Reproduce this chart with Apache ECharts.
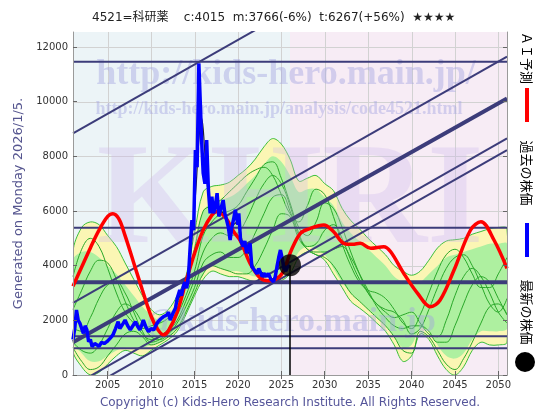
<!DOCTYPE html>
<html><head><meta charset="utf-8">
<script src="https://cdn.jsdelivr.net/npm/echarts@6/dist/echarts.min.js"></script>
<style>html,body{margin:0;padding:0;background:#fff}#c{width:560px;height:420px}</style>
</head><body><div id="c"></div>
<script>
// ---------- data ----------
const tickYears = [2005,2010,2015,2020,2025,2030,2035,2040,2045,2050];
const yTicks = [0,2000,4000,6000,8000,10000,12000];
const latestYear = 2026;
const latestPrice = 4015;

const bandYears = [2001,2002,2003,2004,2005,2006,2007,2008,2009,2010,
  2011,2012,2013,2014,2015,2016,2017,2018,2019,2020,
  2021,2022,2023,2024,2025,2026,2027,2028,2029,2030,
  2031,2032,2033,2034,2035,2036,2037,2038,2039,2040,
  2041,2042,2043,2044,2045,2046,2047,2048,2049,2050,2051];
const yellowHigh = [4500,5400,5600,5500,5100,4700,4100,3500,2900,2400,
  2200,2400,2900,3600,5200,6700,6900,6950,7050,7300,
  7550,7900,8350,8650,8450,7900,7100,7200,7300,7000,
  6750,6100,5650,5350,5000,4700,4400,4000,3800,3650,
  3800,4200,4650,4900,4950,5000,5150,5250,5350,5400,5350];
const yellowLow = [900,300,0,100,400,700,900,800,700,900,
  1100,1300,1600,2200,2900,3500,3800,3700,3600,3600,
  3500,3400,3400,3350,3450,3700,4300,4500,4400,4200,
  3700,3200,2700,2450,2200,1900,1600,1100,500,700,
  1500,1300,700,200,0,300,900,1200,1100,1100,1200];
const greenHigh = [4200,4500,4500,4300,4000,3700,3300,2900,2500,2200,
  2000,2200,2700,3400,4800,6000,6300,6400,6500,6700,
  7000,7300,7700,8000,7800,7300,6700,6800,6800,6500,
  6200,5600,5200,4900,4600,4300,4000,3600,3400,3300,
  3400,3700,4000,4300,4400,4500,4600,4700,4800,4800,4800];
const greenLow = [1200,800,500,500,700,900,1000,1000,1000,1100,
  1200,1400,1700,2300,3000,3700,4000,3900,3800,3800,
  3700,3600,3600,3600,3700,3900,4500,4700,4600,4400,
  3900,3400,3000,2700,2400,2100,1800,1400,1000,1100,
  1700,1600,1100,700,600,800,1300,1600,1600,1600,1700];

const path2 = [3600,4600,5000,4700,3900,3000,2300,1900,1700,1800,
  1900,2100,2600,3300,4600,6000,6200,6400,6700,7000,
  7300,7500,7600,7300,6600,5900,5600,6200,6800,6600,
  5800,4800,4000,3400,3100,3000,2800,2400,1900,1700,
  2200,3000,3800,4400,4600,4300,3700,3200,3200,3700,4300];
const path3 = [2400,3100,3800,4200,4100,3500,2700,2000,1500,1300,
  1400,1700,2200,2900,3800,5100,5600,5900,6000,6200,
  6700,7200,7700,7800,7200,6300,5400,5100,5600,6300,
  6100,5400,4500,3700,3000,2600,2400,2300,2000,1500,
  1700,2400,3200,3900,4300,4400,4000,3300,2600,2300,2800];
const path4 = [1700,1600,2100,2800,3300,3400,3000,2300,1600,1200,
  1300,1600,2000,2700,3500,4500,5000,5200,5100,5200,
  5700,6400,7000,7300,7000,6200,5200,4700,4800,5300,
  5500,5000,4200,3500,3000,2600,2300,2100,2200,2300,
  1900,1500,1400,2000,2900,3600,3900,3600,3000,2300,1900];
const path5 = [1200,900,800,1100,1700,2300,2600,2400,1900,1400,
  1300,1500,1900,2500,3200,4100,4400,4500,4300,4300,
  4600,5200,5900,6500,6600,6000,5100,4600,4500,4500,
  4600,4700,4300,3700,3100,2500,2100,1800,1700,1800,
  1800,1600,1200,1200,1800,2600,3300,3600,3400,2800,2200];
const path6 = [1000,500,200,300,700,1100,1500,1600,1400,1100,
  1200,1400,1700,2300,3000,3700,4000,3900,3800,3700,
  3700,4000,4600,5300,5900,5800,5000,4600,4400,4300,
  4000,3500,3000,2700,2400,2100,1800,1400,900,800,
  1600,1400,900,400,200,600,1200,1900,2500,2600,2200];
const greenPaths = [path2, path3, path4, path5, path6];

const redYears = [2001,2002,2003,2004,2005,2005.6,2006.3,2007,2008,2009,
  2010,2010.8,2011.4,2012,2013,2014,2015,2016,2017,2017.6,
  2018.6,2019.5,2020.3,2021.4,2022.6,2023.5,2024.3,2025.1,2026.2,2027.2,
  2028.2,2029.9,2031,2032.2,2033.2,2034.1,2035.3,2036.8,2037.6,2039.1,
  2040.7,2042.2,2043.3,2044.9,2046.8,2048,2049.5,2051];
const redValues = [3250,3950,4650,5300,5800,5900,5700,5100,4100,3100,
  2150,1650,1470,1620,2300,3400,4450,5300,5850,5980,
  5750,5250,4900,4087,3540,3450,3500,3720,4600,5185,
  5350,5490,5250,4819,4780,4819,4636,4696,4510,3720,
  2990,2500,2744,3842,5306,5610,4940,3904];

const priceYears = [2001.0,2001.2,2001.4,2001.6,2001.8,2002.0,2002.2,2002.4,2002.6,2002.8,
  2003.0,2003.2,2003.5,2003.7,2004.0,2004.3,2004.6,2004.9,2005.3,2005.6,
  2005.9,2006.2,2006.4,2006.6,2006.8,2007.0,2007.3,2007.6,2007.9,2008.2,
  2008.5,2008.7,2008.9,2009.1,2009.4,2009.7,2010.0,2010.3,2010.6,2010.8,
  2011.1,2011.4,2011.8,2012.0,2012.2,2012.5,2012.8,2013.0,2013.3,2013.5,
  2013.7,2013.9,2014.1,2014.3,2014.5,2014.7,2014.9,2015.1,2015.3,2015.5,
  2015.65,2015.85,2016.0,2016.2,2016.4,2016.6,2016.8,2017.0,2017.2,2017.4,
  2017.6,2017.8,2018.0,2018.3,2018.5,2018.7,2018.9,2019.1,2019.3,2019.5,
  2019.7,2020.0,2020.1,2020.3,2020.6,2020.8,2021.0,2021.2,2021.4,2021.6,
  2021.9,2022.2,2022.4,2022.6,2022.8,2023.0,2023.3,2023.5,2023.8,2024.1,
  2024.3,2024.5,2024.7,2024.9,2025.1,2025.3,2025.5,2025.7,2026.0];
const priceValues = [1300,1700,2380,2000,1890,1700,1525,1800,1650,1220,
  1300,1035,1150,1160,1050,1200,1150,1220,1350,1464,
  1700,1950,1700,1770,1900,2010,1800,1650,1800,1950,
  1750,1650,1800,2010,1750,1585,1700,1650,1850,1950,
  2050,2130,2195,2300,2010,2250,2440,2800,3110,2900,
  3230,3400,3170,3600,4695,5670,5300,8230,7600,11400,
  11460,8350,7380,7000,8600,6770,5917,6525,5917,6200,
  6650,5800,5790,6400,5900,5670,5400,4940,5400,5700,
  6040,5500,5917,4940,4695,4900,4450,4700,4819,3963,
  3842,3700,3900,3963,3600,3720,3597,3720,3500,3414,
  3600,3963,4300,4574,4270,3900,3800,3950,4015];

const avgYears = [2013.0,2013.5,2014.0,2014.4,2014.8,2015.2,2015.5,2015.8,2016.0,2016.3,
  2016.6,2017.0,2017.5,2018.0,2018.5,2019.0,2019.5,2020.0,2020.5,2021.0,
  2021.5,2022.0,2022.5,2023.0,2023.5,2024.0,2024.5,2025.0,2025.5];
const avgValues = [2700,3000,3300,4000,5300,7000,8600,9400,9000,7600,
  6600,6200,6200,6000,5900,5300,5500,5600,4900,4600,
  4300,3800,3800,3700,3650,3500,3800,4300,3900];

const hLevels = [11460, 5390, 3390, 1415, 977];
const diagYears = [2001, 2051];
const diagStart = [8840, 2640, 1200, -400, -800];
const diagEnd = [17840, 11650, 10120, 8660, 8230];

// ---------- styles ----------
const NAVY = '#3c3c7a';
const hWidths = [2, 2, 4, 2, 2];
const dWidths = [2, 2, 4, 2, 2];

const zip = (xs, ys) => xs.map((x, i) => [x, ys[i]]);
const plain = v => String(v);

function bandSeries(hi, lo, fill, stroke, z) {
  return {
    type: 'custom', z: z, silent: true, clip: true,
    data: [[bandYears[0], lo[0]]],
    renderItem: function (params, api) {
      const pts = [];
      for (let i = 0; i < bandYears.length; i++) pts.push(api.coord([bandYears[i], hi[i]]));
      for (let i = bandYears.length - 1; i >= 0; i--) pts.push(api.coord([bandYears[i], lo[i]]));
      return { type: 'polygon', shape: { points: pts, smooth: 0.35 },
        style: { fill: fill, stroke: stroke, lineWidth: 1 } };
    }
  };
}

const series = [];
series.push({
  type: 'custom', z: 0, silent: true, data: [[2001, 0]],
  renderItem: function (params, api) {
    const cs = params.coordSys;
    const xNow = api.coord([latestYear, 0])[0];
    const ch = [
      { type: 'rect', shape: { x: cs.x, y: cs.y, width: xNow - cs.x, height: cs.height }, style: { fill: '#ecf4f7' } },
      { type: 'rect', shape: { x: xNow, y: cs.y, width: cs.x + cs.width - xNow, height: cs.height }, style: { fill: '#f7ecf5' } }
    ];
    tickYears.forEach(function (t) {
      const p = Math.round(api.coord([t, 0])[0]) + 0.5;
      ch.push({ type: 'line', shape: { x1: p, y1: cs.y, x2: p, y2: cs.y + cs.height }, style: { stroke: '#d2d2d2', lineWidth: 1 } });
    });
    yTicks.forEach(function (v) {
      const p = Math.round(api.coord([2001, v])[1]) + 0.5;
      ch.push({ type: 'line', shape: { x1: cs.x, y1: p, x2: cs.x + cs.width, y2: p }, style: { stroke: '#d2d2d2', lineWidth: 1 } });
    });
    return { type: 'group', children: ch };
  }
});
series.push(bandSeries(yellowHigh, yellowLow, '#fbf6b4', '#3cbf3c', 1));
series.push(bandSeries(greenHigh, greenLow, '#aef0a0', null, 1));
greenPaths.forEach(function (p) {
  series.push({ type: 'line', z: 1, silent: true, showSymbol: false, smooth: 0.4,
    data: zip(bandYears, p), lineStyle: { color: '#2aa82a', width: 1 } });
});
hLevels.forEach(function (v, i) {
  series.push({ type: 'line', z: 3, silent: true, showSymbol: false,
    data: [[2001, v], [2051, v]], lineStyle: { color: NAVY, width: hWidths[i] } });
});
diagStart.forEach(function (v, i) {
  series.push({ type: 'line', z: 3, silent: true, showSymbol: false,
    data: [[diagYears[0], v], [diagYears[1], diagEnd[i]]], lineStyle: { color: NAVY, width: dWidths[i] } });
});
series.push({ type: 'line', z: 4, silent: true, showSymbol: false, smooth: 0.35,
  data: zip(redYears, redValues), lineStyle: { color: '#ff0000', width: 3.5 } });
series.push({ type: 'line', z: 5, silent: true, showSymbol: false, smooth: 0.3,
  data: zip(avgYears, avgValues), lineStyle: { color: '#222', width: 1.2 } });
series.push({ type: 'line', z: 6, silent: true, showSymbol: false,
  data: zip(priceYears, priceValues), lineStyle: { color: '#0000ff', width: 3.5 } });
series.push({ type: 'line', z: 7, silent: true, showSymbol: false,
  data: [[latestYear, 0], [latestYear, latestPrice]], lineStyle: { color: '#000', width: 1.5 } });
series.push({ type: 'scatter', z: 8, silent: true, symbolSize: 22,
  data: [[latestYear, latestPrice]], itemStyle: { color: '#000' } });

const WM = 'rgba(160,160,225,0.42)';
const chart = echarts.init(document.getElementById('c'), null, { renderer: 'canvas' });
chart.setOption({
  animation: false,
  backgroundColor: '#fff',
  grid: { left: 73, right: 53, top: 32, bottom: 45, show: false },
  xAxis: [{
    type: 'value', min: 2001, max: 2051, z: 20,
    axisLine: { show: true, lineStyle: { color: '#9a9a9a' } },
    axisTick: { show: true, inside: true, length: 4, customValues: tickYears, lineStyle: { color: '#666' } },
    axisLabel: { customValues: tickYears, formatter: plain, color: '#333', fontSize: 10, fontFamily: 'DejaVu Sans', margin: 5 },
    splitLine: { show: false }
  }, {
    type: 'value', min: 2001, max: 2051, position: 'top', z: 20,
    axisLine: { show: true, lineStyle: { color: '#9a9a9a' } },
    axisTick: { show: true, inside: true, length: 4, customValues: tickYears, lineStyle: { color: '#666' } },
    axisLabel: { show: false }, splitLine: { show: false }
  }],
  yAxis: [{
    type: 'value', min: 0, max: 12550, z: 20,
    name: 'Generated on Monday 2026/1/5.', nameLocation: 'middle', nameGap: 47,
    nameTextStyle: { color: '#55558f', fontSize: 13, fontFamily: 'DejaVu Sans' },
    axisLine: { show: true, lineStyle: { color: '#9a9a9a' } },
    axisTick: { show: true, inside: true, length: 4, customValues: yTicks, lineStyle: { color: '#666' } },
    axisLabel: { customValues: yTicks, formatter: plain, color: '#333', fontSize: 10, fontFamily: 'DejaVu Sans', margin: 5 },
    splitLine: { show: false }
  }, {
    type: 'value', min: 0, max: 12550, position: 'right', z: 20,
    axisLine: { show: true, lineStyle: { color: '#9a9a9a' } },
    axisTick: { show: true, inside: true, length: 4, customValues: yTicks, lineStyle: { color: '#666' } },
    axisLabel: { show: false }, splitLine: { show: false }
  }],
  graphic: { elements: [
    { type: 'text', z: 2, x: 286, y: 75, silent: true, style: { text: 'http://kids-hero.main.jp/', align: 'center', verticalAlign: 'middle', font: 'bold 36px "Liberation Serif"', fill: WM } },
    { type: 'text', z: 2, x: 279, y: 109, silent: true, style: { text: 'http://kids-hero.main.jp/analysis/code4521.html', align: 'center', verticalAlign: 'middle', font: 'bold 18px "Liberation Serif"', fill: WM } },
    { type: 'text', z: 2, x: 290, y: 205, silent: true, style: { text: 'KHRI', align: 'center', verticalAlign: 'middle', font: 'bold 145px "Liberation Serif"', fill: 'rgba(205,185,235,0.32)' } },
    { type: 'text', z: 2, x: 146, y: 322, silent: true, style: { text: '@kids-hero.main.jp', align: 'left', verticalAlign: 'middle', font: 'bold 34px "Liberation Serif"', fill: WM } },
    { type: 'text', x: 92, y: 18, silent: true, style: { text: '4521=科研薬    c:4015  m:3766(-6%)  t:6267(+56%)  ★★★★', align: 'left', verticalAlign: 'middle', font: '12px "DejaVu Sans", "Noto Sans CJK JP"', fill: '#222' } },
    { type: 'text', x: 290, y: 403, silent: true, style: { text: 'Copyright (c) Kids-Hero Research Institute. All Rights Reserved.', align: 'center', verticalAlign: 'middle', font: '12px "DejaVu Sans"', fill: '#55559a' } },
    { type: 'text', x: 527, y: 58, rotation: -Math.PI / 2, silent: true, style: { text: 'ＡＩ予測', align: 'center', verticalAlign: 'middle', font: '13px "Noto Sans CJK JP"', fill: '#000' } },
    { type: 'line', silent: true, shape: { x1: 527, y1: 88, x2: 527, y2: 122 }, style: { stroke: '#ff0000', lineWidth: 4 } },
    { type: 'text', x: 527, y: 173, rotation: -Math.PI / 2, silent: true, style: { text: '過去の株価', align: 'center', verticalAlign: 'middle', font: '13px "Noto Sans CJK JP"', fill: '#000' } },
    { type: 'line', silent: true, shape: { x1: 527, y1: 223, x2: 527, y2: 257 }, style: { stroke: '#0000ff', lineWidth: 4 } },
    { type: 'text', x: 527, y: 312, rotation: -Math.PI / 2, silent: true, style: { text: '最新の株価', align: 'center', verticalAlign: 'middle', font: '13px "Noto Sans CJK JP"', fill: '#000' } },
    { type: 'circle', silent: true, shape: { cx: 525, cy: 362, r: 10 }, style: { fill: '#000' } }
  ] },
  series: series
});
</script>
</body></html>
